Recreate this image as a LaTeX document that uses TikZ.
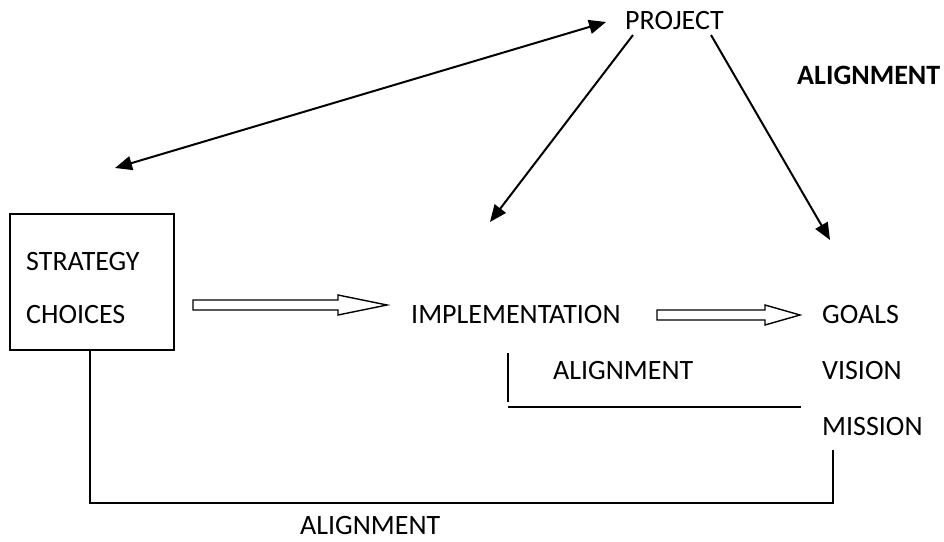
\documentclass[tikz,border=0pt]{standalone}
\usepackage{fontspec}
\setmainfont{Carlito}
\usetikzlibrary{arrows.meta,calc}
\begin{document}
\begin{tikzpicture}[x=1pt,y=-1pt,
  lbl/.style={inner sep=0pt,anchor=base west,font=\fontsize{28}{32}\selectfont},
  tip/.style={Triangle[length=17pt,width=14pt]},
  conn/.style={line width=2pt,-{Triangle[length=17pt,width=14pt]}},
  plain/.style={line width=1.4pt},
  hollow/.style={line width=1.4pt,fill=white,line join=miter}]
\useasboundingbox (0,0) rectangle (944,541);
% labels
\node[lbl] (project) at (625,29) {PROJECT};
\node[lbl,font=\fontsize{28}{32}\selectfont\bfseries] (alignTop) at (797,84) {ALIGNMENT};
\node[lbl] (strategy) at (26,270) {STRATEGY};
\node[lbl] (choices) at (26,323) {CHOICES};
\node[lbl] (impl) at (411,323) {IMPLEMENTATION};
\node[lbl] (goals) at (822,323) {GOALS};
\node[lbl] (alignMid) at (553,379) {ALIGNMENT};
\node[lbl] (vision) at (822,379) {VISION};
\node[lbl] (mission) at (822,435) {MISSION};
\node[lbl] (alignBot) at (300,534) {ALIGNMENT};
% strategy box
\draw[plain] (10,214) rectangle (174,350);
\coordinate (boxS) at (90,350);
% diagonal connectors
\coordinate (dL) at (115,168);
\coordinate (dR) at (606,22);
\draw[line width=2pt,{Triangle[length=17pt,width=14pt]}-{Triangle[length=17pt,width=14pt]}] (dL) -- (dR);
\coordinate (p1) at (633,35);
\coordinate (i1) at (490,222);
\draw[conn] (p1) -- (i1);
\coordinate (p2) at (711,35);
\coordinate (g1) at (830,240);
\draw[conn] (p2) -- (g1);
% hollow block arrows
\coordinate (h1s) at (193,305);
\coordinate (h1t) at (387,305);
\draw[hollow] ($(h1s)+(0,-5)$) -- ($(h1t)+(-49,-5)$) -- ($(h1t)+(-49,-10)$) -- (h1t)
  -- ($(h1t)+(-49,10)$) -- ($(h1t)+(-49,5)$) -- ($(h1s)+(0,5)$) -- cycle;
\coordinate (h2s) at (657,315);
\coordinate (h2t) at (800,315);
\draw[hollow] ($(h2s)+(0,-5)$) -- ($(h2t)+(-35,-5)$) -- ($(h2t)+(-35,-10)$) -- (h2t)
  -- ($(h2t)+(-35,10)$) -- ($(h2t)+(-35,5)$) -- ($(h2s)+(0,5)$) -- cycle;
% alignment brackets
\coordinate (m1) at (508,353);
\coordinate (m2) at (508,402);
\draw[plain] (m1) -- (m2);
\coordinate (m3) at (508,407);
\coordinate (m4) at (801,407);
\draw[plain] (m3) -- (m4);
\coordinate (b1) at (90,503);
\coordinate (b2) at (833,503);
\coordinate (b3) at (833,450);
\draw[plain] (boxS) -- (b1) -- (b2) -- (b3);
\end{tikzpicture}
\end{document}
